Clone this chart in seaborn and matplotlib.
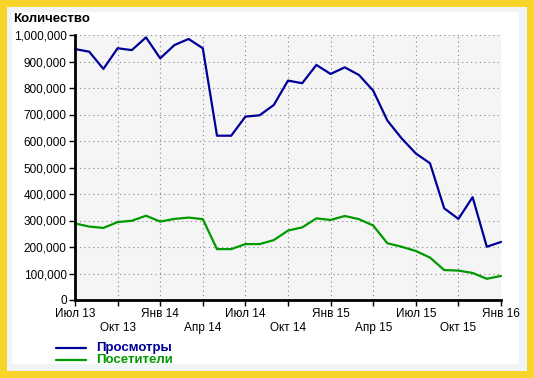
import pandas as pd
import seaborn as sns
import matplotlib.pyplot as plt
from matplotlib.patches import Rectangle
from matplotlib.ticker import FuncFormatter, MultipleLocator

# ================= DATA =================
MONTHS = ['Июл 13', 'Авг 13', 'Сен 13', 'Окт 13', 'Ноя 13', 'Дек 13',
          'Янв 14', 'Фев 14', 'Мар 14', 'Апр 14', 'Май 14', 'Июн 14',
          'Июл 14', 'Авг 14', 'Сен 14', 'Окт 14', 'Ноя 14', 'Дек 14',
          'Янв 15', 'Фев 15', 'Мар 15', 'Апр 15', 'Май 15', 'Июн 15',
          'Июл 15', 'Авг 15', 'Сен 15', 'Окт 15', 'Ноя 15', 'Дек 15',
          'Янв 16']

views = [947000, 937000, 872000, 950000, 943000, 991000, 912000, 962000,
         985000, 950000, 620000, 620000, 692000, 697000, 736000, 828000,
         818000, 887000, 853000, 878000, 849000, 790000, 677000, 610000,
         553000, 516000, 346000, 306000, 388000, 201000, 219000]

visitors = [289000, 277000, 272000, 294000, 299000, 318000, 296000, 306000,
            311000, 305000, 192000, 192000, 211000, 211000, 226000, 262000,
            274000, 308000, 302000, 317000, 305000, 281000, 214000, 201000,
            185000, 160000, 113000, 111000, 102000, 80000, 91000]

SERIES = ['Просмотры', 'Посетители']
COLORS = ['#000099', '#009900']

# quarterly tick labels, Oct/Apr on a second row
TICK_POS = list(range(0, 31, 3))
TICK_LABELS = ['Июл 13', '\nОкт 13', 'Янв 14', '\nАпр 14', 'Июл 14', '\nОкт 14',
               'Янв 15', '\nАпр 15', 'Июл 15', '\nОкт 15', 'Янв 16']

W, H = 534, 378


def main():
    df = pd.DataFrame({
        'month': list(range(len(MONTHS))) * 2,
        'value': views + visitors,
        'series': [SERIES[0]] * len(views) + [SERIES[1]] * len(visitors),
    })

    sns.set_style('white')
    plt.rcParams['font.family'] = ['Liberation Sans', 'DejaVu Sans']

    fig = plt.figure(figsize=(W / 100, H / 100), dpi=100)
    fig.patch.set_facecolor('#F9D42A')

    # inner panels (light strip, then white)
    fig.patches.append(Rectangle((7 / W, 7 / H), 520 / W, 364 / H,
                                 transform=fig.transFigure, facecolor='#F0F4F7',
                                 edgecolor='none', zorder=-10))
    fig.patches.append(Rectangle((12 / W, 14 / H), 507 / W, 352 / H,
                                 transform=fig.transFigure, facecolor='white',
                                 edgecolor='none', zorder=-9))

    ax = fig.add_axes([75 / W, 78 / H, 426 / W, 265 / H])
    ax.set_zorder(2)
    ax.set_facecolor('#F5F5F5')

    sns.lineplot(data=df, x='month', y='value', hue='series',
                 palette=COLORS, linewidth=1.6, legend=False, ax=ax)
    for ln in ax.lines:
        ln.set_clip_on(False)

    ax.set_xlim(0, 30)
    ax.set_ylim(0, 1000000)
    ax.yaxis.set_major_locator(MultipleLocator(100000))
    ax.yaxis.set_major_formatter(FuncFormatter(lambda v, p: f'{int(v):,}'))
    ax.set_xticks(TICK_POS)
    ax.set_xticklabels(TICK_LABELS)

    ax.grid(True, color='#888888', linestyle=(0, (1, 3)), linewidth=0.8)
    for side in ['top', 'right']:
        ax.spines[side].set_visible(False)
    for side in ['left', 'bottom']:
        ax.spines[side].set_color('black')
        ax.spines[side].set_linewidth(2)
    ax.tick_params(axis='both', length=4, width=1, color='black',
                   labelsize=8.5, pad=2, labelcolor='black', direction='out',
                   bottom=True, left=True)
    ax.set_xlabel('')
    ax.set_ylabel('')

    fig.text(13 / W, 1 - 22 / H, 'Количество', fontsize=9.5, fontweight='bold',
             color='black')

    # legend drawn manually in figure coords
    for i, (name, col) in enumerate(zip(SERIES, COLORS)):
        y = 1 - (348 + 12 * i) / H
        fig.add_artist(plt.Line2D([56 / W, 86 / W], [y, y], color=col,
                                  linewidth=1.6, transform=fig.transFigure))
        fig.text(96 / W, y, name, color=col, fontsize=9.5, fontweight='bold',
                 va='center')

    plt.savefig('out.png', dpi=100, facecolor=fig.get_facecolor())


if __name__ == '__main__':
    main()
